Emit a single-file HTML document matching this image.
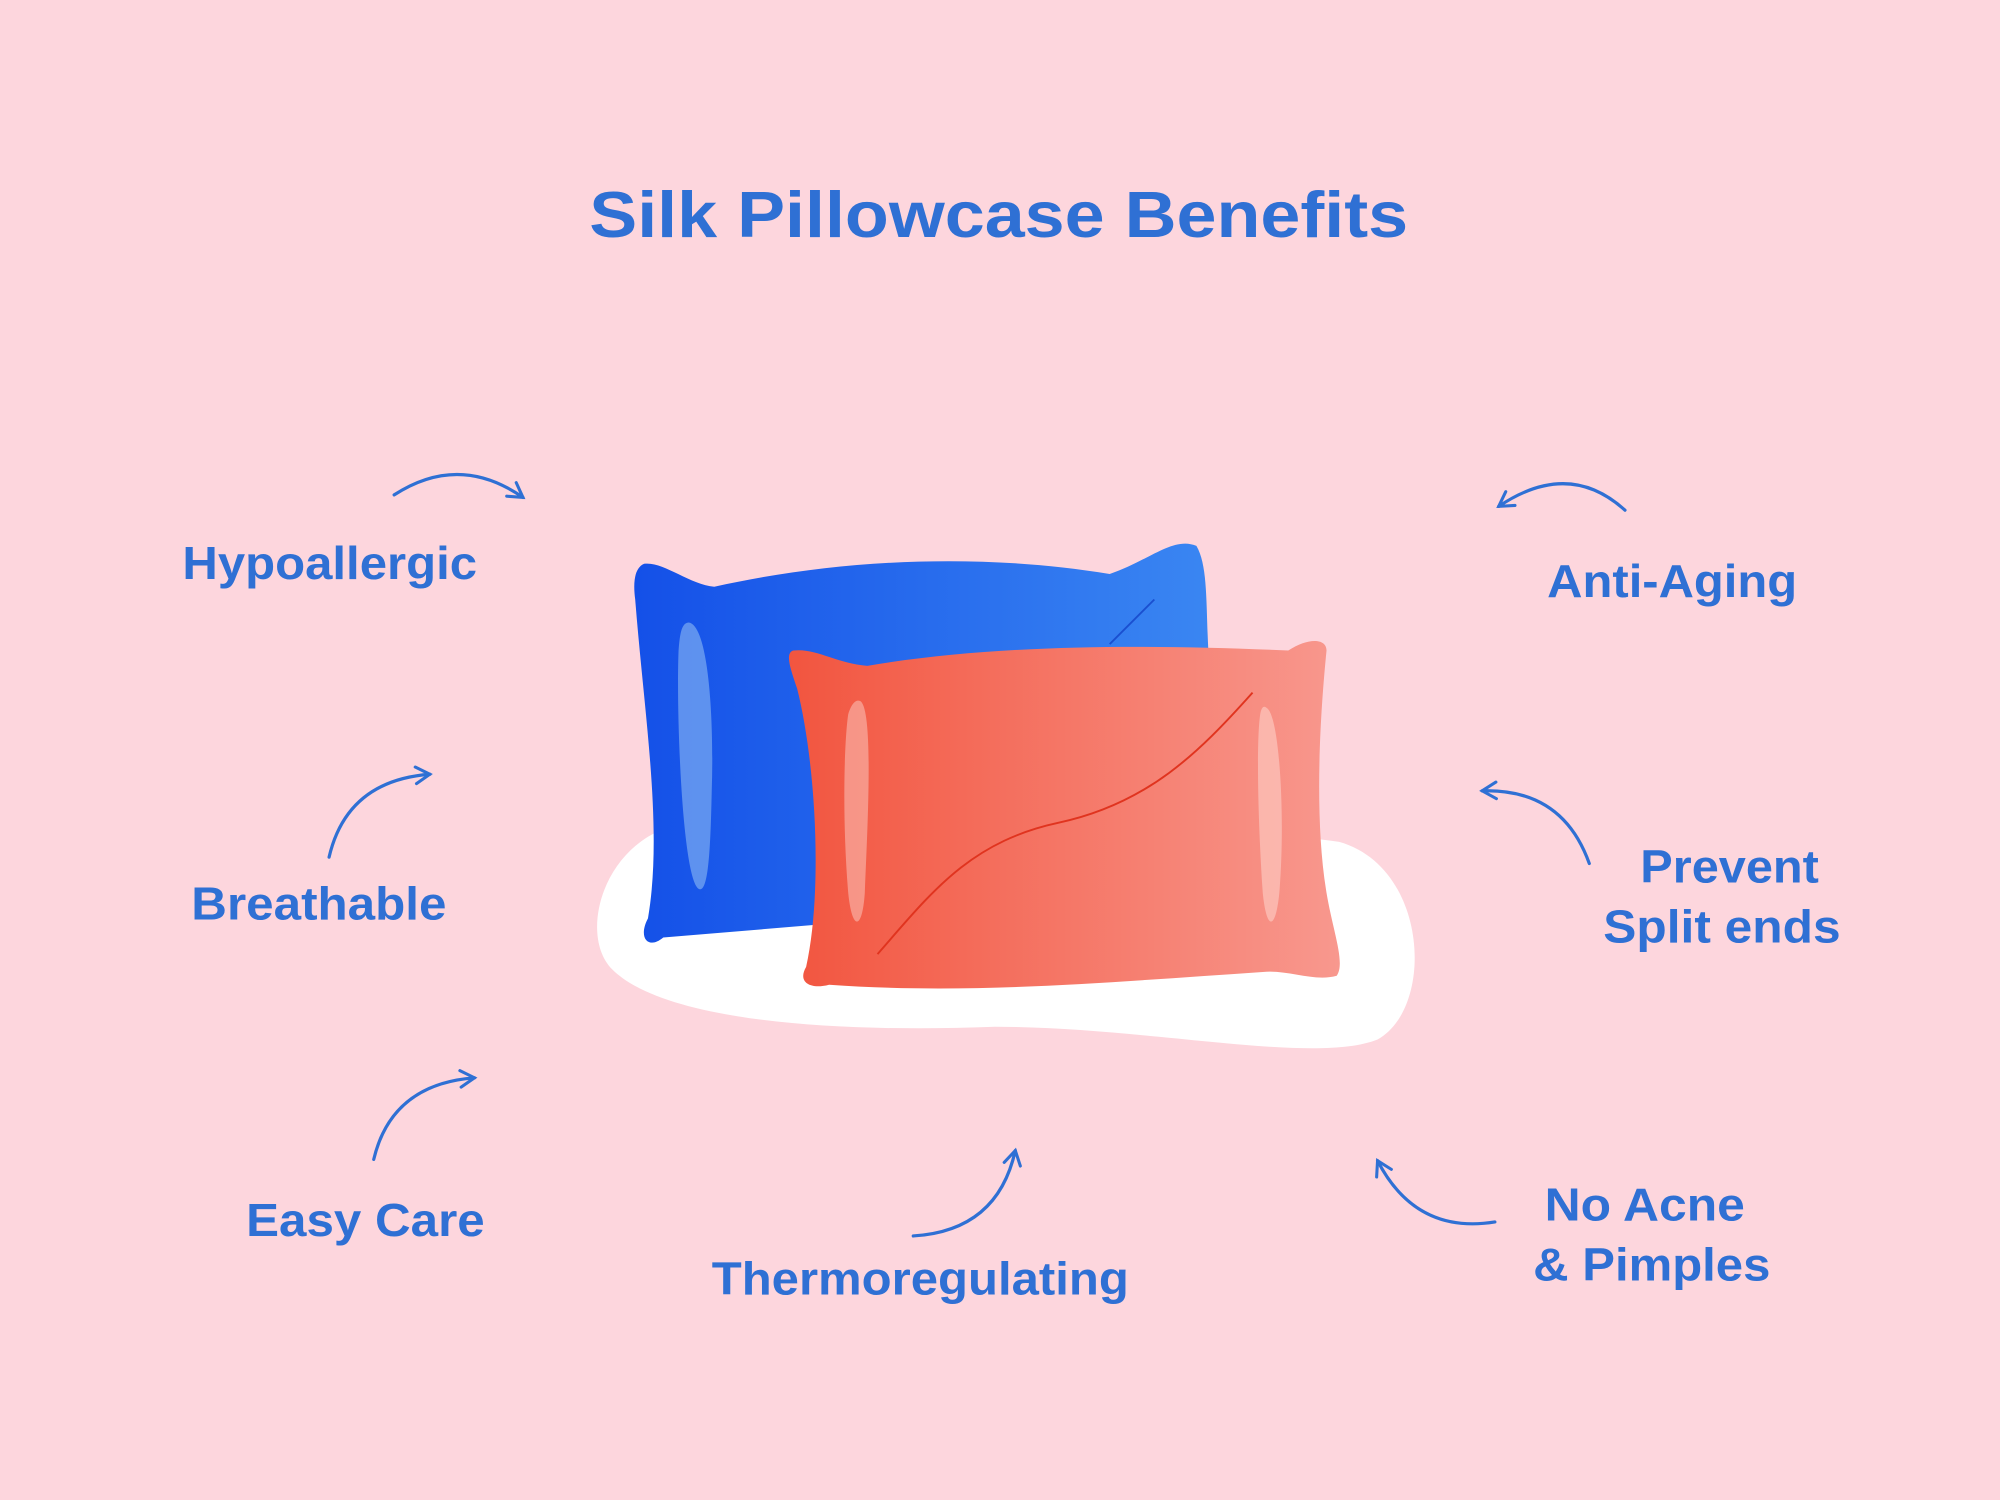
<!DOCTYPE html>
<html><head><meta charset="utf-8"><style>
html,body{margin:0;padding:0;background:#fdd6dd;}
svg{display:block}
text{font-family:"Liberation Sans",sans-serif;font-weight:bold;fill:#2f70d4;}
</style></head><body>
<svg width="2000" height="1500" viewBox="0 0 1568 1176" xmlns="http://www.w3.org/2000/svg">
<defs>
<linearGradient id="bl" x1="0" y1="0" x2="1" y2="0"><stop offset="0" stop-color="#1450e8"/><stop offset="1" stop-color="#3a86f2"/></linearGradient>
<linearGradient id="pk" x1="0" y1="0" x2="1" y2="0"><stop offset="0" stop-color="#f2553f"/><stop offset="1" stop-color="#f8988e"/></linearGradient>
<marker id="ah" viewBox="0 0 16 16" refX="13" refY="8" markerWidth="16" markerHeight="16" markerUnits="userSpaceOnUse" orient="auto"><path d="M2,1.5 L13,8 L2,14.5" fill="none" stroke="#2f70d4" stroke-width="2.4" stroke-linecap="round"/></marker>
</defs>
<rect width="1568" height="1176" fill="#fdd6dd"/>
<text x="462" y="186" font-size="51" textLength="642" lengthAdjust="spacingAndGlyphs">Silk Pillowcase Benefits</text>
<!-- white blob -->
<path d="M520,650 C600,620 900,640 1050,660 C1120,680 1125,790 1080,815 C1030,835 900,805 780,805 C650,810 520,800 480,760 C455,735 470,670 520,650 Z" fill="#ffffff"/>
<!-- blue pillow -->
<path d="M505,442 C520,440 540,458 560,460 C650,440 760,432 870,450 C900,440 920,420 938,428 C948,445 945,480 948,520 L940,700 L520,735 C508,745 500,735 508,720 C520,650 505,560 498,470 C496,455 498,445 505,442 Z" fill="url(#bl)"/>
<path d="M540,488 C555,490 560,560 558,620 C557,670 555,700 548,697 C535,690 530,560 532,510 C533,495 535,488 540,488 Z" fill="#6b9cf0" opacity="0.85"/>
<path d="M870,505 L905,470" stroke="#1a4fd0" stroke-width="1.5"/>
<!-- pink pillow -->
<path d="M622,510 C640,508 655,520 680,522 C780,505 900,505 1010,510 C1025,500 1040,500 1040,510 C1035,560 1030,640 1040,700 C1045,730 1055,755 1048,765 C1030,770 1010,760 990,762 C870,770 760,780 650,772 C635,776 625,770 632,758 C645,700 640,600 625,540 C620,525 615,512 622,510 Z" fill="url(#pk)"/>
<path d="M675,550 C685,560 680,650 678,700 C676,730 668,730 665,700 C660,640 662,580 665,560 C668,550 672,548 675,550 Z" fill="#f7a497" opacity="0.8"/>
<path d="M993,555 C1003,560 1008,640 1003,700 C1000,730 993,730 990,700 C986,640 985,580 988,560 C989,554 991,553 993,555 Z" fill="#fbbfb6" opacity="0.8"/>
<path d="M688,748 C730,700 760,660 830,645 C900,630 940,590 982,543" fill="none" stroke="#e0341f" stroke-width="1.5"/>
<!-- arrows -->
<g fill="none" stroke="#2f70d4" stroke-width="2.5" stroke-linecap="round" marker-end="url(#ah)">
<path d="M309,388 Q360,355 410,390"/>
<path d="M258,672 Q272,612 337,607"/>
<path d="M293,909 Q307,850 372,845"/>
<path d="M716,969 Q782,965 796,902"/>
<path d="M1274,400 Q1230,360 1175,397"/>
<path d="M1246,677 Q1225,618 1162,620"/>
<path d="M1172,958 Q1110,968 1080,910"/>
</g>
<g font-size="36">
<text x="143" y="454" textLength="231" lengthAdjust="spacingAndGlyphs">Hypoallergic</text>
<text x="150" y="721" textLength="200" lengthAdjust="spacingAndGlyphs">Breathable</text>
<text x="193" y="969" textLength="187" lengthAdjust="spacingAndGlyphs">Easy Care</text>
<text x="558" y="1015" textLength="327" lengthAdjust="spacingAndGlyphs">Thermoregulating</text>
<text x="1213" y="468" textLength="196" lengthAdjust="spacingAndGlyphs">Anti-Aging</text>
<text x="1286" y="692" textLength="140" lengthAdjust="spacingAndGlyphs">Prevent</text>
<text x="1257" y="739" textLength="186" lengthAdjust="spacingAndGlyphs">Split ends</text>
<text x="1211" y="957" textLength="157" lengthAdjust="spacingAndGlyphs">No Acne</text>
<text x="1202" y="1004" textLength="186" lengthAdjust="spacingAndGlyphs">&amp; Pimples</text>
</g>
</svg>
</body></html>
